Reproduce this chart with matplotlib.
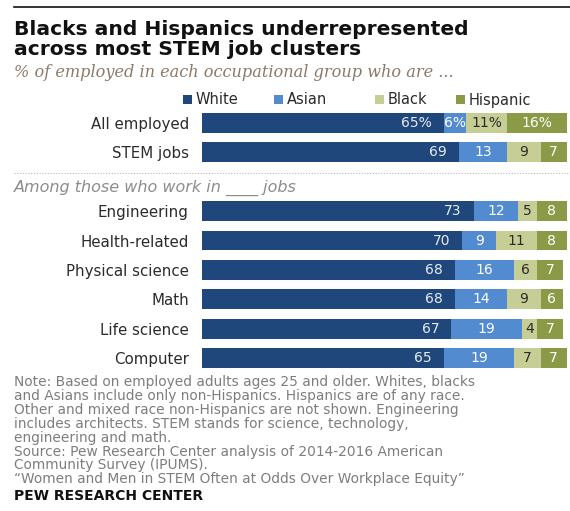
import matplotlib
matplotlib.use("Agg")
import matplotlib.pyplot as plt
from matplotlib.patches import Rectangle
from matplotlib.lines import Line2D

# ---- data -------------------------------------------------------------
categories = ["All employed", "STEM jobs", "Engineering", "Health-related",
              "Physical science", "Math", "Life science", "Computer"]
groups = ["overall", "overall", "cluster", "cluster", "cluster", "cluster",
          "cluster", "cluster"]
series_names = ["White", "Asian", "Black", "Hispanic"]
white = [65, 69, 73, 70, 68, 68, 67, 65]
asian = [6, 13, 12, 9, 16, 14, 19, 19]
black = [11, 9, 5, 11, 6, 9, 4, 7]
hispanic = [16, 7, 8, 8, 7, 6, 7, 7]

series_colors = ["#1f477b", "#528bd0", "#c6cd95", "#8a9a47"]
value_colors = ["#e6ebf2", "#ffffff", "#2b2b2b", "#ffffff"]

note_lines = [
    "Note: Based on employed adults ages 25 and older. Whites, blacks",
    "and Asians include only non-Hispanics. Hispanics are of any race.",
    "Other and mixed race non-Hispanics are not shown. Engineering",
    "includes architects. STEM stands for science, technology,",
    "engineering and math.",
    "Source: Pew Research Center analysis of 2014-2016 American",
    "Community Survey (IPUMS).",
    "\u201cWomen and Men in STEM Often at Odds Over Workplace Equity\u201d",
]

# ---- figure helpers (pixel coordinates, origin top-left) --------------
W, H = 570, 511
fig = plt.figure(figsize=(W / 100, H / 100), dpi=100)
fig.patch.set_facecolor("white")


def fx(x):
    return x / W


def fy(y):
    return 1 - y / H


# rows: overall rows first, a blank row, then the job clusters
positions = []
row = 0
prev = None
for g in groups:
    if prev is not None and g != prev:
        row += 1
    positions.append(row)
    row += 1
    prev = g
n_rows = positions[-1] + 1

first_c, last_c, bar_left, scale = 123, 358, 202, 3.72
step = (last_c - first_c) / (n_rows - 1)
ax_top = first_c - step / 2
ax_bot = last_c + step / 2
ax = fig.add_axes([fx(bar_left), fy(ax_bot), (W - bar_left) / W,
                   (ax_bot - ax_top) / H])
ax.set_xlim(0, (W - bar_left) / scale)
ax.set_ylim(n_rows - 0.5, -0.5)

all_series = [white, asian, black, hispanic]
lefts = [0] * len(categories)
for si, vals in enumerate(all_series):
    ax.barh(positions, vals, left=lefts, height=0.68,
            color=series_colors[si], edgecolor="none")
    for i, v in enumerate(vals):
        txt = f"{v}%" if i == 0 else f"{v}"
        if si == 0:
            ax.text(lefts[i] + v - 3.2, positions[i], txt, ha="right",
                    va="center", color=value_colors[si], fontsize=10)
        else:
            ax.text(lefts[i] + v / 2, positions[i], txt, ha="center",
                    va="center", color=value_colors[si], fontsize=10)
    lefts = [l + v for l, v in zip(lefts, vals)]

ax.set_yticks(positions, categories)
ax.tick_params(axis="y", length=0, pad=9.5, labelsize=10.8,
               labelcolor="#2b2b2b")
ax.set_xticks([])
for sp in ax.spines.values():
    sp.set_visible(False)

# ---- header -----------------------------------------------------------
fig.add_artist(Line2D([fx(14), fx(570)], [fy(7), fy(7)], color="#111111",
                      lw=1.2))
fig.text(fx(14), fy(35), "Blacks and Hispanics underrepresented",
         fontsize=14.6, fontweight="bold", color="#111111", va="baseline")
fig.text(fx(14), fy(55), "across most STEM job clusters",
         fontsize=14.6, fontweight="bold", color="#111111", va="baseline")
fig.text(fx(14), fy(77), "% of employed in each occupational group who are ...",
         fontsize=11.6, family="DejaVu Serif", style="italic",
         color="#8a7a68", va="baseline")

# legend
legend_x = [183, 274, 375, 456]
for name, col, x in zip(series_names, series_colors, legend_x):
    fig.add_artist(Rectangle((fx(x), fy(104.5)), 9 / W, 9 / H,
                             transform=fig.transFigure, color=col, lw=0))
    fig.text(fx(x + 13), fy(104.5), name, fontsize=10.5, color="#2b2b2b",
             va="baseline")

# separator and sub-heading
fig.add_artist(Line2D([fx(14), fx(570)], [fy(173), fy(173)], color="#b8b8b8",
                      lw=0.8, ls=(0, (1, 1.5))))
fig.text(fx(14), fy(191.5), "Among those who work in ____ jobs",
         fontsize=11.5, style="italic", color="#8c8c8c", va="baseline")

# ---- notes ------------------------------------------------------------
for k, line in enumerate(note_lines):
    fig.text(fx(14), fy(386 + 13.9 * k), line, fontsize=9.9,
             color="#7d7d7d", va="baseline")
fig.text(fx(14), fy(500), "PEW RESEARCH CENTER", fontsize=10,
         fontweight="bold", color="#111111", va="baseline")

fig.savefig("out.png", dpi=100)
